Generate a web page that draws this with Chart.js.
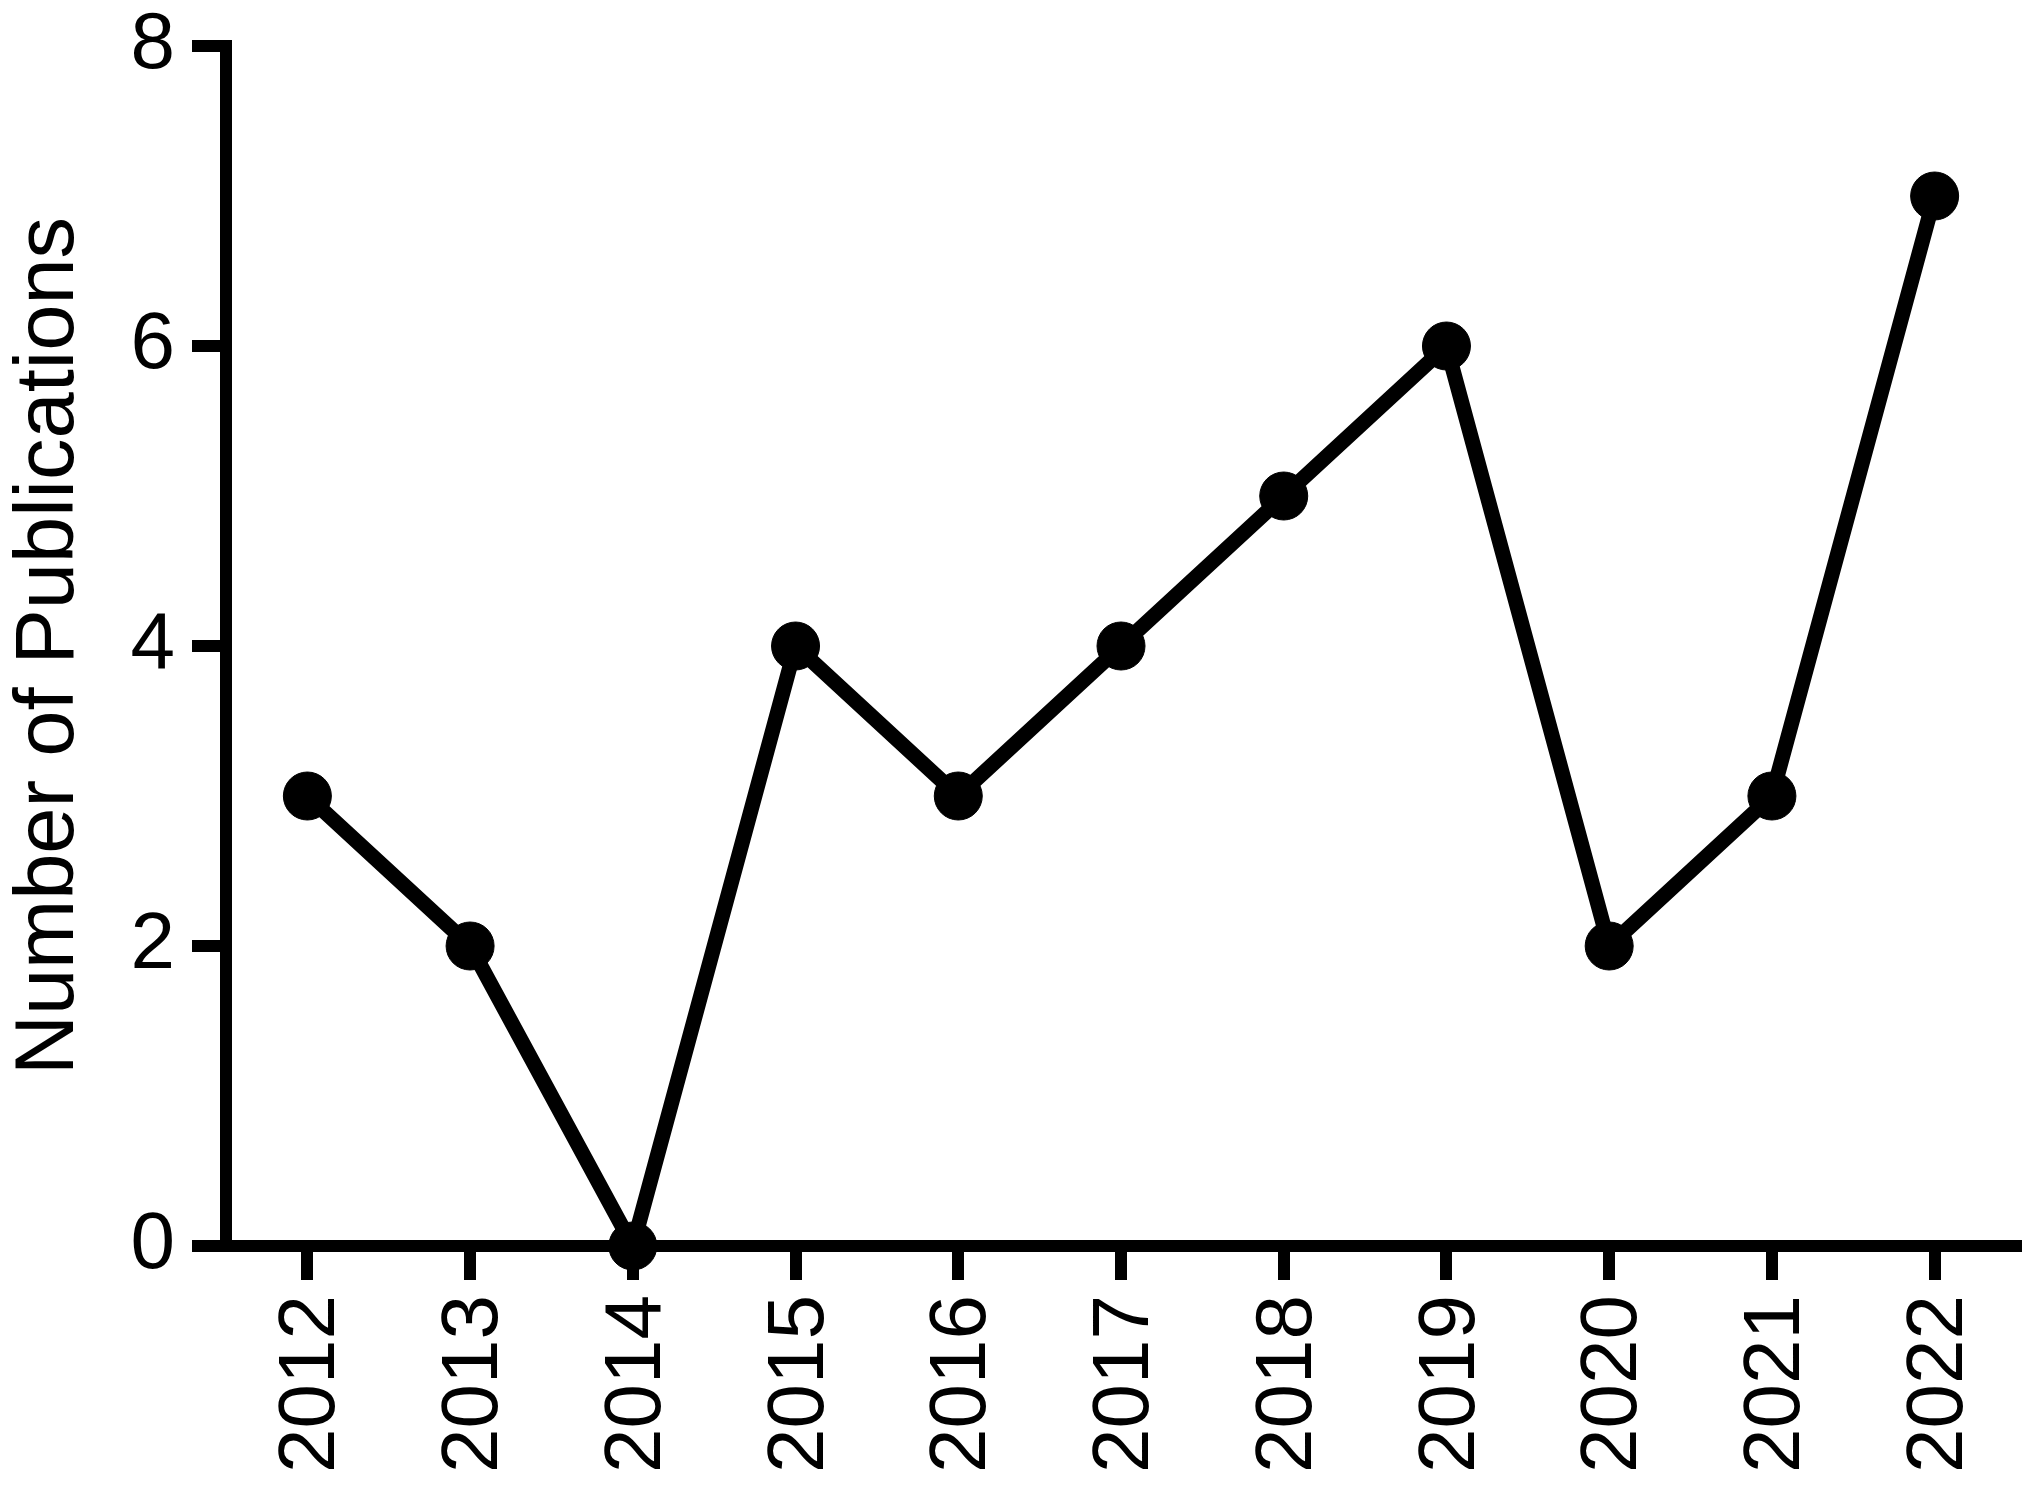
<!DOCTYPE html>
<html>
<head>
<meta charset="utf-8">
<script src="https://cdn.jsdelivr.net/npm/chart.js@4"></script>
<style>
  html, body { margin: 0; padding: 0; background: #fff; }
  canvas { display: block; }
</style>
</head>
<body>
<canvas id="pubChart" width="2041" height="1492"></canvas>
<script>
const years = ['2012', '2013', '2014', '2015', '2016', '2017', '2018', '2019', '2020', '2021', '2022'];
const publications = [3, 2, 0, 4, 3, 4, 5, 6, 2, 3, 7];
const yTicks = [0, 2, 4, 6, 8];

const tickFont = { family: '"Liberation Sans", Arial, sans-serif', size: 80 };
const titleFont = { family: '"Liberation Sans", Arial, sans-serif', size: 83 };

const ctx = document.getElementById('pubChart').getContext('2d');
new Chart(ctx, {
    type: 'line',
    data: {
        labels: years,
        datasets: [{
            label: 'Number of Publications',
            data: publications,
            borderColor: '#000',
            backgroundColor: '#000',
            borderWidth: 15,
            pointRadius: 24,
            pointBorderWidth: 1,
            pointBackgroundColor: '#000',
            pointBorderColor: '#000',
            tension: 0,
            clip: false
        }]
    },
    options: {
        responsive: false,
        animation: false,
        layout: { padding: { top: 46, right: 12, left: 0, bottom: 0 } },
        plugins: {
            legend: { display: false },
            tooltip: { enabled: false }
        },
        scales: {
            x: {
                offset: true,
                grid: { drawOnChartArea: false, color: '#000', lineWidth: 12, tickLength: 34, offset: false },
                border: { color: '#000', width: 12 },
                ticks: { color: '#000', font: tickFont, minRotation: 90, maxRotation: 90, padding: 15, labelOffset: 5, autoSkip: false },
                afterFit: function(scale) {
                    scale.height = 246;
                    scale.paddingLeft = 0;
                    scale.paddingRight = 0;
                }
            },
            y: {
                min: 0,
                max: 8,
                grid: { drawOnChartArea: false, color: '#000', lineWidth: 12, tickLength: 34 },
                border: { color: '#000', width: 12 },
                afterBuildTicks: function(scale) {
                    scale.ticks = yTicks.map(v => ({ value: v }));
                },
                ticks: { color: '#000', font: tickFont, padding: 17 },
                title: {
                    display: true,
                    text: 'Number of Publications',
                    color: '#000',
                    font: titleFont,
                    padding: { top: 0, bottom: 0 }
                },
                afterFit: function(scale) {
                    scale.width = 226;
                    scale.paddingTop = 0;
                    scale.paddingBottom = 0;
                }
            }
        }
    }
});
</script>
</body>
</html>
